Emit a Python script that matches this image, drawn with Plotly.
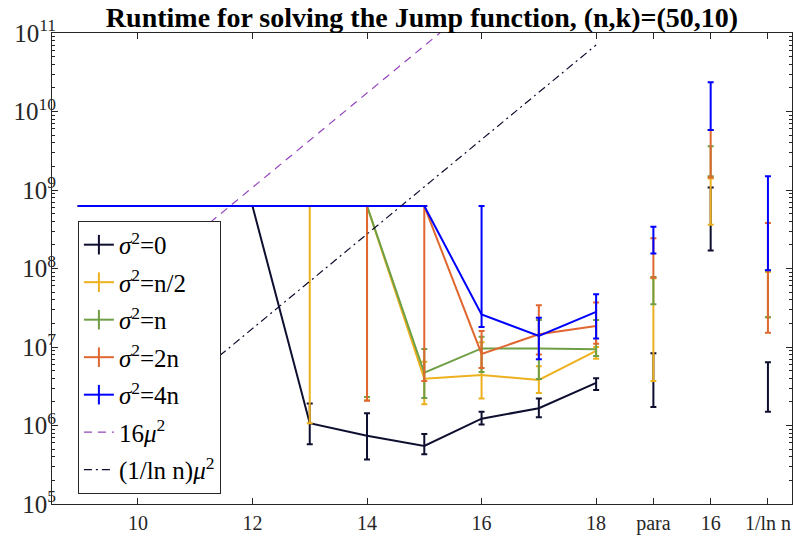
import plotly.graph_objects as go

# ---------------- data ----------------
x_vals = [9, 10, 11, 12, 13, 14, 15, 16, 17, 18, None, 19, None, 20, None, 21]
x_tickvals = [10, 12, 14, 16, 18, 19, 20, 21]
x_ticktext = ["10", "12", "14", "16", "18", "para", "16", "1/ln n"]

CAP = 6.25e8

s0_y  = [CAP, CAP, CAP, CAP, 1.07e6, 7.4e5, 5.5e5, 1.22e6, 1.66e6, 3.5e6, None, 3.8e6, None, 4.3e8, None, 3.1e6]
s0_lo = [CAP, CAP, CAP, CAP, 5.75e5, 3.7e5, 4.3e5, 1.03e6, 1.27e6, 2.83e6, None, 1.72e6, None, 1.69e8, None, 1.5e6]
s0_hi = [CAP, CAP, CAP, CAP, 1.9e6, 1.43e6, 7.8e5, 1.5e6, 2.2e6, 4.0e6, None, 8.3e6, None, 1.08e9, None, 6.4e6]

s1_y  = [CAP, CAP, CAP, CAP, CAP, CAP, 3.95e6, 4.4e6, 3.8e6, 8.9e6, None, 1.7e7, None, 7.0e8, None, 5.0e7]
s1_lo = [CAP, CAP, CAP, CAP, 1.07e6, 2.1e6, 1.86e6, 2.2e6, 2.6e6, 7.1e6, None, 3.7e6, None, 3.6e8, None, 2.4e7]
s1_hi = [CAP, CAP, CAP, CAP, CAP, CAP, 6.5e6, 1.15e7, 5.7e6, 1.0e7, None, 7.5e7, None, 1.4e9, None, 9.0e7]

s2_y  = [CAP, CAP, CAP, CAP, CAP, CAP, 4.7e6, 9.6e6, 9.6e6, 9.35e6, None, 5.2e7, None, 2.3e9, None, 4.8e7]
s2_lo = [CAP, CAP, CAP, CAP, CAP, 2.3e6, 2.24e6, 4.8e6, 3.9e6, 7.7e6, None, 3.5e7, None, 1.5e9, None, 2.4e7]
s2_hi = [CAP, CAP, CAP, CAP, CAP, CAP, 9.4e6, 1.35e7, 2.2e7, 2.2e7, None, 7.8e7, None, 3.6e9, None, 9.5e7]

s3_y  = [CAP, CAP, CAP, CAP, CAP, CAP, CAP, 8.15e6, 1.45e7, 1.85e7, None, 1.4e8, None, 2.9e9, None, 7.5e7]
s3_lo = [CAP, CAP, CAP, CAP, CAP, 2.07e6, 3.7e6, 5.4e6, 8.0e6, 1.1e7, None, 7.6e7, None, 1.44e9, None, 1.52e7]
s3_hi = [CAP, CAP, CAP, CAP, CAP, CAP, CAP, 1.6e7, 3.4e7, 3.7e7, None, 2.43e8, None, 5.8e9, None, 3.8e8]

s4_y  = [CAP, CAP, CAP, CAP, CAP, CAP, CAP, 2.6e7, 1.38e7, 2.8e7, None, 2.3e8, None, 1.17e10, None, 3.8e8]
s4_lo = [CAP, CAP, CAP, CAP, CAP, CAP, CAP, 1.8e7, 7.0e6, 1.28e7, None, 1.55e8, None, 5.8e9, None, 9.5e7]
s4_hi = [CAP, CAP, CAP, CAP, CAP, CAP, CAP, 6.25e8, 2.36e7, 4.7e7, None, 3.4e8, None, 2.36e10, None, 1.5e9]

bound_x = [9, 10, 11, 12, 13, 14, 15, 16, 17, 18]
bound_16 = [1.68e7, 6.71e7, 2.68e8, 1.07e9, 4.29e9, 1.72e10, 6.87e10, 2.75e11, 1.10e12, 4.40e12]
bound_ln = [2.68e5, 1.07e6, 4.29e6, 1.72e7, 6.86e7, 2.74e8, 1.10e9, 4.39e9, 1.76e10, 7.03e10]

series = [
    ("<i>σ</i><sup>2</sup>=0", "#0e0e30", s0_y, s0_lo, s0_hi),
    ("<i>σ</i><sup>2</sup>=n/2", "#EDB120", s1_y, s1_lo, s1_hi),
    ("<i>σ</i><sup>2</sup>=n", "#6E9F45", s2_y, s2_lo, s2_hi),
    ("<i>σ</i><sup>2</sup>=2n", "#E0672F", s3_y, s3_lo, s3_hi),
    ("<i>σ</i><sup>2</sup>=4n", "#0000FF", s4_y, s4_lo, s4_hi),
]

FONT = "Liberation Serif"
AX = "#262626"
PURPLE = "#9444BC"

fig = go.Figure()

for i, (name, col, ys, lo, hi) in enumerate(series):
    plus = [(h - y) if y is not None else 0 for y, h in zip(ys, hi)]
    minus = [(y - l) if y is not None else 0 for y, l in zip(ys, lo)]
    fig.add_trace(go.Scatter(
        x=x_vals, y=ys, mode="lines", name=name, showlegend=False,
        line=dict(color=col, width=2), connectgaps=False,
        error_y=dict(type="data", symmetric=False, array=plus, arrayminus=minus,
                     color=col, thickness=2, width=3),
    ))

fig.add_trace(go.Scatter(x=bound_x, y=bound_16, mode="lines", showlegend=False,
                         line=dict(color=PURPLE, width=1.2, dash="8px,6px")))
fig.add_trace(go.Scatter(x=bound_x, y=bound_ln, mode="lines", showlegend=False,
                         line=dict(color="#0e0e30", width=1.2, dash="8px,4px,2px,4px")))

# legend entries
for i, (name, col, ys, lo, hi) in enumerate(series):
    fig.add_trace(go.Scatter(
        x=[None], y=[None], mode="lines+markers", name=name, legendgroup=f"g{i}",
        line=dict(color=col, width=2),
        marker=dict(symbol="line-ns", size=14, line=dict(color=col, width=2), color=col),
    ))
fig.add_trace(go.Scatter(x=[None], y=[None], mode="lines", name="16<i>μ</i><sup>2</sup>",
                         legendgroup="g5", line=dict(color=PURPLE, width=1.2, dash="8px,6px")))
fig.add_trace(go.Scatter(x=[None], y=[None], mode="lines", name="(1/ln n)<i>μ</i><sup>2</sup>",
                         legendgroup="g6", line=dict(color="#0e0e30", width=1.2, dash="8px,4px,2px,4px")))

fig.update_layout(
    width=793, height=537,
    margin=dict(l=52, r=1, t=33, b=33),
    paper_bgcolor="white", plot_bgcolor="white",
    font=dict(family=FONT, color=AX, size=20),
    title=dict(text="<b>Runtime for solving the Jump function, (n,k)=(50,10)</b>",
               x=0.5, xref="paper", xanchor="center", y=1 - 17 / 537, yref="container",
               yanchor="middle", font=dict(family=FONT, size=28, color="black")),
    legend=dict(x=0.035, y=0.601, xanchor="left", yanchor="top",
                bgcolor="white", bordercolor=AX, borderwidth=1,
                font=dict(family=FONT, size=25, color="black"),
                traceorder="grouped", tracegroupgap=2, itemwidth=30),
    xaxis=dict(range=[8.5, 21.42], tickvals=x_tickvals, ticktext=x_ticktext,
               automargin=False, ticklabelstandoff=1,
               showgrid=False, zeroline=False, showline=True, linecolor=AX, linewidth=1,
               mirror="ticks", ticks="inside", ticklen=6, tickcolor=AX,
               tickfont=dict(family=FONT, size=20, color=AX)),
    yaxis=dict(type="log", range=[5, 11], dtick=1, exponentformat="power",
               automargin=False, ticklabelstandoff=-9,
               showgrid=False, zeroline=False, showline=True, linecolor=AX, linewidth=1,
               mirror="ticks", ticks="inside", ticklen=6, tickcolor=AX,
               tickfont=dict(family=FONT, size=20, color=AX),
               minor=dict(ticks="inside", ticklen=3, tickcolor=AX, dtick="D1", showgrid=False)),
)

fig.write_html("out.html", post_script="document.body.style.margin='0';",
               config={"displayModeBar": False})
